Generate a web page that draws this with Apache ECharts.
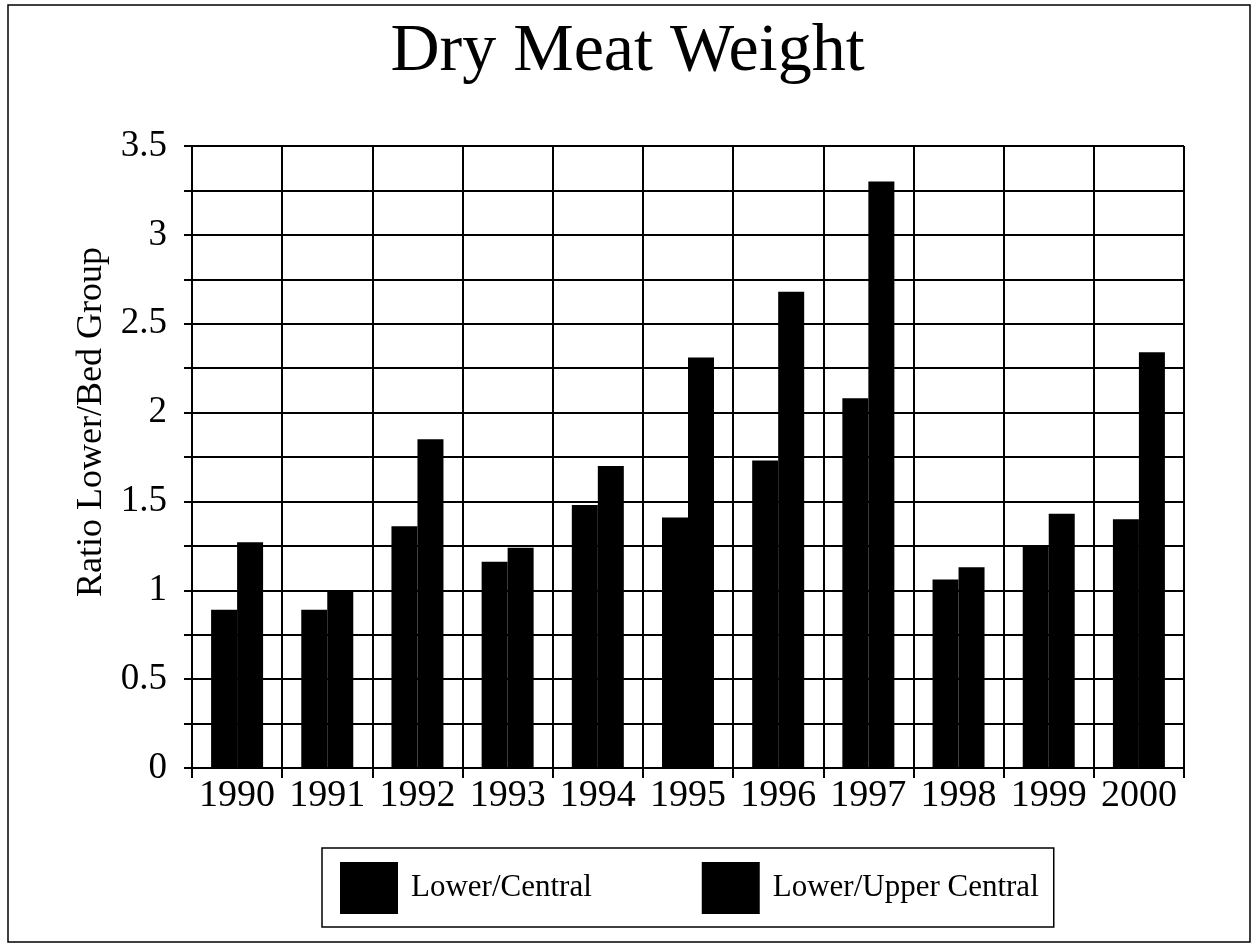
<!DOCTYPE html>
<html>
<head>
<meta charset="utf-8">
<title>Dry Meat Weight</title>
<script src="https://cdn.jsdelivr.net/npm/echarts@6/dist/echarts.min.js"></script>
<style>
  html, body { margin: 0; padding: 0; background: #fff; }
  #chart { width: 1255px; height: 946px; }
</style>
</head>
<body>
<div id="chart"></div>
<script>
// data
const years = ['1990', '1991', '1992', '1993', '1994', '1995', '1996', '1997', '1998', '1999', '2000']
const lowerCentral = [0.89, 0.89, 1.36, 1.16, 1.48, 1.41, 1.73, 2.08, 1.06, 1.25, 1.40]
const lowerUpperCentral = [1.27, 0.99, 1.85, 1.24, 1.70, 2.31, 2.68, 3.30, 1.13, 1.43, 2.34]

const serif = "'Liberation Serif', 'Times New Roman', serif"

let chart = echarts.init(document.getElementById('chart'))
const option = {
  backgroundColor: '#fff',
  animation: false,
  title: {
    text: 'Dry Meat Weight',
    left: 'center',
    top: 13,
    textStyle: { fontFamily: serif, fontSize: 68, fontWeight: 'normal', color: '#000' }
  },
  graphic: [{
    type: 'rect',
    shape: { x: 8, y: 5, width: 1242, height: 937 },
    style: { fill: 'none', stroke: '#000', lineWidth: 1.5 }
  }],
  legend: {
    left: 322,
    top: 848,
    padding: [14, 15, 13, 18],
    itemGap: 110,
    itemWidth: 58,
    itemHeight: 52,
    icon: 'rect',
    borderColor: '#000',
    borderWidth: 1.5,
    textStyle: { fontFamily: serif, fontSize: 31, color: '#000', padding: [0, 0, 0, 8] },
    data: ['Lower/Central', 'Lower/Upper Central']
  },
  grid: { left: 192, top: 146, right: 71, bottom: 178 },
  xAxis: {
    type: 'category',
    data: years,
    axisLine: { lineStyle: { color: '#000', width: 2 } },
    axisTick: { show: true, interval: 0, length: 10, lineStyle: { color: '#000', width: 2 } },
    axisLabel: { interval: 0, fontFamily: serif, fontSize: 38, color: '#000', margin: 9 },
    splitLine: { show: true, interval: 0, lineStyle: { color: '#000', width: 2 } }
  },
  yAxis: {
    type: 'value',
    min: 0,
    max: 3.5,
    interval: 0.5,
    name: 'Ratio Lower/Bed Group',
    nameLocation: 'middle',
    nameGap: 80,
    nameTextStyle: { fontFamily: serif, fontSize: 36, color: '#000', padding: [0, 0, 0, 70] },
    axisLine: { show: true, lineStyle: { color: '#000', width: 2 } },
    axisTick: { show: true, length: 8, lineStyle: { color: '#000', width: 2 } },
    minorTick: { show: true, splitNumber: 2, length: 8, lineStyle: { color: '#000', width: 2 } },
    axisLabel: { fontFamily: serif, fontSize: 37, color: '#000', margin: 25 },
    splitLine: { show: true, lineStyle: { color: '#000', width: 2 } },
    minorSplitLine: { show: true, lineStyle: { color: '#000', width: 2 } }
  },
  series: [{
    name: 'Lower/Central',
    type: 'bar',
    data: lowerCentral,
    barWidth: 26,
    barGap: '0%',
    itemStyle: { color: '#000' }
  }, {
    name: 'Lower/Upper Central',
    type: 'bar',
    data: lowerUpperCentral,
    barWidth: 26,
    itemStyle: { color: '#000' }
  }]
}
chart.setOption(option)
</script>
</body>
</html>
